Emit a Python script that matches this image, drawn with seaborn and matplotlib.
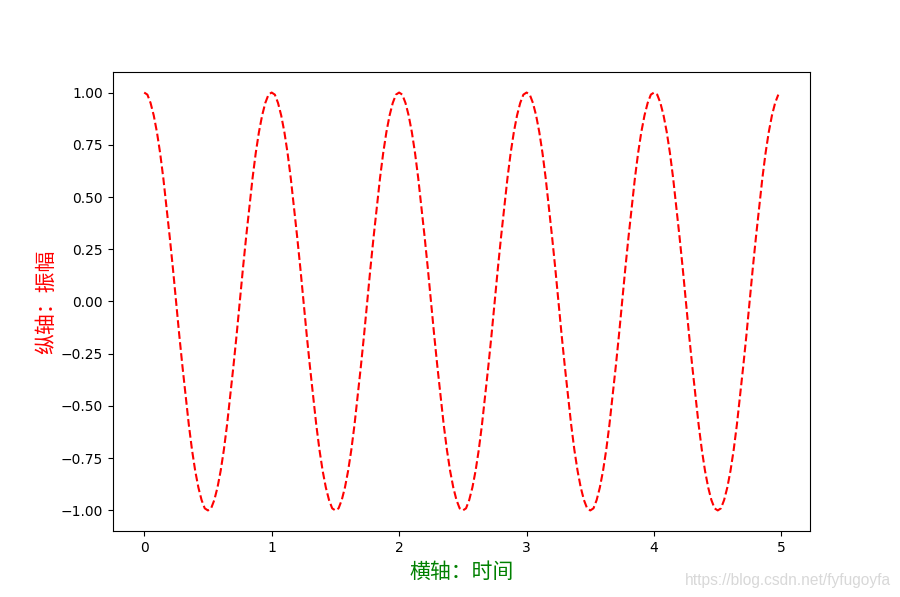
import numpy as np
import pandas as pd
import matplotlib
matplotlib.use("Agg")
import matplotlib.pyplot as plt
import seaborn as sns

# time samples (step 0.025 from 0 to 4.975)
time = np.arange(0, 5, 0.025)
amplitude = [
    1.00, 0.99, 0.95, 0.89, 0.81, 0.71, 0.59, 0.45, 0.31, 0.16,
    0.00, -0.16, -0.31, -0.45, -0.59, -0.71, -0.81, -0.89, -0.95, -0.99,
    -1.00, -0.99, -0.95, -0.89, -0.81, -0.71, -0.59, -0.45, -0.31, -0.16,
    0.00, 0.16, 0.31, 0.45, 0.59, 0.71, 0.81, 0.89, 0.95, 0.99,
    1.00, 0.99, 0.95, 0.89, 0.81, 0.71, 0.59, 0.45, 0.31, 0.16,
    0.00, -0.16, -0.31, -0.45, -0.59, -0.71, -0.81, -0.89, -0.95, -0.99,
    -1.00, -0.99, -0.95, -0.89, -0.81, -0.71, -0.59, -0.45, -0.31, -0.16,
    0.00, 0.16, 0.31, 0.45, 0.59, 0.71, 0.81, 0.89, 0.95, 0.99,
    1.00, 0.99, 0.95, 0.89, 0.81, 0.71, 0.59, 0.45, 0.31, 0.16,
    0.00, -0.16, -0.31, -0.45, -0.59, -0.71, -0.81, -0.89, -0.95, -0.99,
    -1.00, -0.99, -0.95, -0.89, -0.81, -0.71, -0.59, -0.45, -0.31, -0.16,
    0.00, 0.16, 0.31, 0.45, 0.59, 0.71, 0.81, 0.89, 0.95, 0.99,
    1.00, 0.99, 0.95, 0.89, 0.81, 0.71, 0.59, 0.45, 0.31, 0.16,
    0.00, -0.16, -0.31, -0.45, -0.59, -0.71, -0.81, -0.89, -0.95, -0.99,
    -1.00, -0.99, -0.95, -0.89, -0.81, -0.71, -0.59, -0.45, -0.31, -0.16,
    0.00, 0.16, 0.31, 0.45, 0.59, 0.71, 0.81, 0.89, 0.95, 0.99,
    1.00, 0.99, 0.95, 0.89, 0.81, 0.71, 0.59, 0.45, 0.31, 0.16,
    0.00, -0.16, -0.31, -0.45, -0.59, -0.71, -0.81, -0.89, -0.95, -0.99,
    -1.00, -0.99, -0.95, -0.89, -0.81, -0.71, -0.59, -0.45, -0.31, -0.16,
    0.00, 0.16, 0.31, 0.45, 0.59, 0.71, 0.81, 0.89, 0.95, 0.99,
]
y_ticks = [-1.0, -0.75, -0.5, -0.25, 0.0, 0.25, 0.5, 0.75, 1.0]
x_label = "横轴：时间"
y_label = "纵轴：振幅"
watermark = "https://blog.csdn.net/fyfugoyfa"

plt.rcParams['font.family'] = ['Noto Sans CJK SC', 'DejaVu Sans']

df = pd.DataFrame({"t": time, "a": amplitude})
fig, ax = plt.subplots(figsize=(9, 5.97), dpi=100)
sns.lineplot(data=df, x="t", y="a", ax=ax, color="red", linestyle="--", linewidth=1.5)
ax.set_xlabel(x_label, color="green", fontsize=15, labelpad=4)
ax.set_ylabel(y_label, color="red", fontsize=15, labelpad=2)
ax.set_yticks(y_ticks)
ax.set_yticklabels([f"{v:.2f}".replace("-", "\u2212") for v in y_ticks],
                   family=['DejaVu Sans'])
for lab in ax.get_xticklabels():
    lab.set_family(['DejaVu Sans'])
fig.text(0.99, 0.015, watermark, ha="right", va="bottom", color="#d8d8d8", fontsize=11.2,
         family=['Liberation Sans', 'DejaVu Sans'])
fig.savefig("out.png", dpi=100)
